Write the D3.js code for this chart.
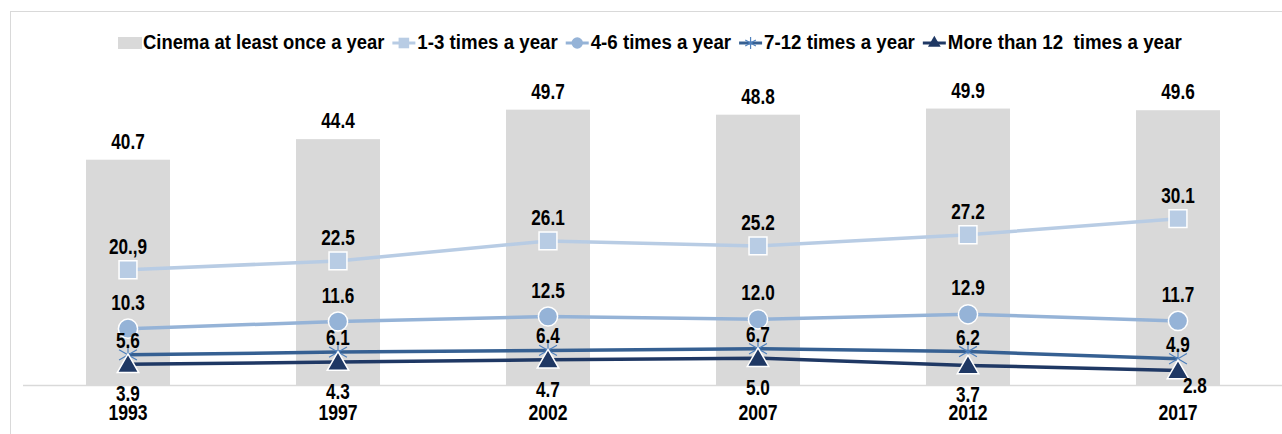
<!DOCTYPE html>
<meta charset="utf-8">
<style>
  body { margin: 0; background: #fff; }
  svg text { font-family: "Liberation Sans", Arial, sans-serif; font-weight: bold; fill: #000; }
</style>
<body>
<script src="https://cdn.jsdelivr.net/npm/d3@7/dist/d3.min.js"></script>
<script>

var years = ["1993", "1997", "2002", "2007", "2012", "2017"];
var cinema = [40.7, 44.4, 49.7, 48.8, 49.9, 49.6];
var times1to3 = [20.9, 22.5, 26.1, 25.2, 27.2, 30.1];
var times4to6 = [10.3, 11.6, 12.5, 12.0, 12.9, 11.7];
var times7to12 = [5.6, 6.1, 6.4, 6.7, 6.2, 4.9];
var timesOver12 = [3.9, 4.3, 4.7, 5.0, 3.7, 2.8];
// label text as printed in the source (first one has a typo)
var labels1to3 = ["20.,9", "22.5", "26.1", "25.2", "27.2", "30.1"];

var W = 1282, H = 434;
var svg = d3.select("body").append("svg")
    .attr("width", W)
    .attr("height", H);

// squeeze text horizontally to get a narrow-font look
function narrow(sel, k) {
    sel.each(function() {
        var w = this.getComputedTextLength();
        d3.select(this).attr("textLength", w * k).attr("lengthAdjust", "spacingAndGlyphs");
    });
}

// light frame of the chart area
svg.append("rect")
    .attr("x", 10.5).attr("y", 11.5)
    .attr("width", W).attr("height", H)
    .attr("fill", "none")
    .attr("stroke", "#d9d9d9");

var x = d3.scaleBand()
    .domain(years)
    .range([23, 1283])
    .paddingInner(0.6)
    .paddingOuter(0.3);

var y = d3.scaleLinear()
    .domain([0, 50])
    .range([386, 108]);

var cx = function(i) { return x(years[i]) + x.bandwidth() / 2; };

// bars
svg.selectAll(".bar")
    .data(cinema)
    .enter().append("rect")
    .attr("class", "bar")
    .attr("x", function(d, i) { return x(years[i]); })
    .attr("y", function(d) { return y(d); })
    .attr("width", x.bandwidth())
    .attr("height", function(d) { return y(0) - y(d); })
    .attr("fill", "#d9d9d9");

// baseline
svg.append("line")
    .attr("x1", 23).attr("x2", W)
    .attr("y1", y(0) - 0.5).attr("y2", y(0) - 0.5)
    .attr("stroke", "#d9d9d9")
    .attr("stroke-width", 1.5);

// year labels
svg.selectAll(".year")
    .data(years)
    .enter().append("text")
    .attr("x", function(d) { return x(d) + x.bandwidth() / 2; })
    .attr("y", 420)
    .attr("text-anchor", "middle")
    .style("font-size", "22px")
    .text(function(d) { return d; })
    .call(narrow, 0.8);

svg.selectAll(".barlabel")
    .data(cinema)
    .enter().append("text")
    .attr("x", function(d, i) { return cx(i); })
    .attr("y", function(d) { return y(d) - 11; })
    .attr("text-anchor", "middle")
    .style("font-size", "22px")
    .text(function(d) { return d.toFixed(1); })
    .call(narrow, 0.78);

var series = [
  {name: "1-3 times a year", values: times1to3, color: "#b8cce4", symbol: d3.symbolSquare, size: 320, labels: labels1to3, dy: -16},
  {name: "4-6 times a year", values: times4to6, color: "#95b3d7", symbol: d3.symbolCircle, size: 290, dy: -19},
  {name: "7-12 times a year", values: times7to12, color: "#366092", symbol: d3.symbolAsterisk, size: 300, stroke: true, dy: -7},
  {name: "More than 12  times a year", values: timesOver12, color: "#1f3864", symbol: d3.symbolTriangle, size: 200, dy: 37}
];

var line = d3.line()
    .x(function(d, i) { return cx(i); })
    .y(function(d) { return y(d); });

series.forEach(function(s) {
    svg.append("path")
        .datum(s.values)
        .attr("d", line)
        .attr("fill", "none")
        .attr("stroke", s.color)
        .attr("stroke-width", 3.5);
});

series.forEach(function(s) {
    var sym = d3.symbol().type(s.symbol).size(s.size);
    svg.selectAll(null)
        .data(s.values)
        .enter().append("path")
        .attr("d", sym)
        .attr("transform", function(d, i) {
            var off = s.symbol === d3.symbolTriangle ? 2 : 0;
            return "translate(" + cx(i) + "," + (y(d) + off) + ")";
        })
        .attr("fill", s.stroke ? "none" : s.color)
        .attr("stroke", s.stroke ? "#4f81bd" : "#fff")
        .attr("stroke-width", s.stroke ? 1.2 : 1.5);
});

series.forEach(function(s) {
    svg.selectAll(null)
        .data(s.values)
        .enter().append("text")
        .attr("x", function(d, i) {
            if (s.symbol === d3.symbolTriangle && i === 5) return cx(i) + 17;
            return cx(i);
        })
        .attr("y", function(d, i) {
            if (s.symbol === d3.symbolTriangle && i === 5) return y(d) + 23;
            return y(d) + s.dy;
        })
        .attr("text-anchor", "middle")
        .style("font-size", "22px")
        .text(function(d, i) { return s.labels ? s.labels[i] : d.toFixed(1); })
        .call(narrow, 0.78);
});

// legend
var legend = svg.append("g").attr("transform", "translate(118,43)");
var lx = 0;
var item = legend.append("g");
item.append("rect").attr("x", 0).attr("y", -6).attr("width", 24).attr("height", 12).attr("fill", "#d9d9d9");
var t0 = item.append("text").attr("x", 25).attr("y", 6).style("font-size", "20px").text("Cinema at least once a year");
narrow(t0, 0.92);
lx = 25 + +t0.attr("textLength") + 8;

series.forEach(function(s) {
    var g = legend.append("g").attr("transform", "translate(" + lx + ",0)");
    g.append("line").attr("x1", 0).attr("x2", 23).attr("y1", 0).attr("y2", 0)
        .attr("stroke", s.color).attr("stroke-width", 3);
    g.append("path")
        .attr("d", d3.symbol().type(s.symbol).size(s.size * 0.35))
        .attr("transform", "translate(11.5,0)")
        .attr("fill", s.stroke ? "none" : s.color)
        .attr("stroke", s.stroke ? "#4f81bd" : "none")
        .attr("stroke-width", 1.2);
    var t = g.append("text").attr("x", 25).attr("y", 6).style("font-size", "20px")
        .attr("xml:space", "preserve").style("white-space", "pre")
        .text(s.name);
    narrow(t, 0.935);
    lx += 25 + +t.attr("textLength") + 8;
});

</script>
</body>
